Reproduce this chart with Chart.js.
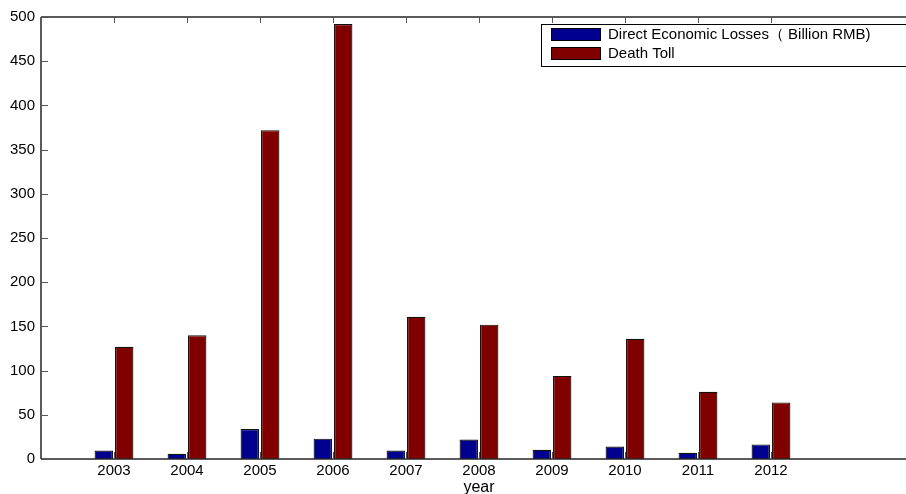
<!DOCTYPE html>
<html><head><meta charset="utf-8">
<script src="https://cdn.jsdelivr.net/npm/chart.js@4/dist/chart.umd.min.js"></script>
<style>
html,body{margin:0;padding:0;overflow:hidden;background:#fff;width:906px;height:494px}
#wrap{position:relative;width:918px;height:494px}
canvas{display:block}
</style>
</head><body><div id="wrap"><canvas id="c" width="918" height="494"></canvas></div>
<script>
const years = [2003,2004,2005,2006,2007,2008,2009,2010,2011,2012];
const lossesLabel = 'Direct Economic Losses\uFF08 Billion RMB)';
const deathLabel = 'Death Toll';
const losses = [9.5,6,34,23,9.5,22,10.5,14,7,16.5];
const deaths = [127,140,372,492,161,152,94,136,76,64];
const yTicks = [0,50,100,150,200,250,300,350,400,450,500];
const xTitle = 'year';

const FONT = '"Liberation Sans", Arial, sans-serif';

const framePlugin = {
  id: 'frame',
  afterDatasetsDraw(chart) {
    const ctx = chart.ctx, a = chart.chartArea;
    const xs = chart.scales.x, ys = chart.scales.y;
    ctx.save();
    ctx.strokeStyle = '#262626';
    ctx.lineWidth = 1.5;
    ctx.beginPath();
    ctx.moveTo(a.left, a.top); ctx.lineTo(a.right, a.top);
    ctx.moveTo(a.left, a.top); ctx.lineTo(a.left, a.bottom);
    ctx.moveTo(a.left, a.bottom); ctx.lineTo(a.right, a.bottom);
    ctx.stroke();
    ctx.lineWidth = 1;
    ctx.strokeStyle = '#555';
    ctx.beginPath();
    years.forEach(v => {
      const x = Math.round(xs.getPixelForValue(v)) + 0.5;
      ctx.moveTo(x, a.bottom); ctx.lineTo(x, a.bottom - 7);
      ctx.moveTo(x, a.top); ctx.lineTo(x, a.top + 6);
    });
    yTicks.forEach(v => {
      const y = Math.round(ys.getPixelForValue(v)) + 0.5;
      ctx.moveTo(a.left, y); ctx.lineTo(a.left + 7, y);
    });
    ctx.stroke();
    // legend box
    const lx = 541, ly = 24, lw = 400, lh = 42;
    ctx.fillStyle = '#fff';
    ctx.fillRect(lx, ly, lw, lh);
    ctx.strokeStyle = '#000';
    ctx.lineWidth = 1;
    ctx.strokeRect(lx + 0.5, ly + 0.5, lw, lh);
    ctx.font = '15px ' + FONT;
    ctx.textBaseline = 'middle';
    ctx.textAlign = 'left';
    chart.data.datasets.forEach((ds, i) => {
      const sy = ly + 4 + i * 19;
      ctx.fillStyle = ds.backgroundColor;
      ctx.fillRect(551, sy, 50, 13);
      ctx.strokeStyle = '#000';
      ctx.strokeRect(551.5, sy + 0.5, 49, 12);
      ctx.fillStyle = '#000';
      ctx.fillText(ds.label, 608, sy + 7);
    });
    ctx.restore();
  }
};

new Chart(document.getElementById('c'), {
  type: 'bar',
  data: {
    datasets: [
      { label: lossesLabel, data: years.map((y, i) => ({x: y, y: losses[i]})),
        backgroundColor: '#00008F', borderColor: '#111', borderWidth: 1.2 },
      { label: deathLabel, data: years.map((y, i) => ({x: y, y: deaths[i]})),
        backgroundColor: '#800000', borderColor: '#111', borderWidth: 1.2 }
    ]
  },
  options: {
    responsive: false,
    animation: false,
    devicePixelRatio: 1,
    barPercentage: 0.9,
    categoryPercentage: 0.56,
    layout: { padding: { top: 17, right: 1, left: 0, bottom: 0 } },
    plugins: { legend: { display: false }, tooltip: { enabled: false } },
    scales: {
      x: {
        type: 'linear', min: 2002, max: 2014, offset: false,
        afterBuildTicks: s => { s.ticks = years.map(v => ({ value: v })); },
        afterFit: s => { s.height = 35; },
        grid: { display: false, drawTicks: false },
        border: { display: false },
        ticks: { color: '#000', font: { family: FONT, size: 15 }, padding: 3,
                 autoSkip: false, maxRotation: 0, callback: v => String(v) },
        title: { display: true, text: xTitle, color: '#000',
                 font: { family: FONT, size: 16, lineHeight: 0.8 }, padding: { top: 0, bottom: 0 } }
      },
      y: {
        min: 0, max: 500,
        afterBuildTicks: s => { s.ticks = yTicks.map(v => ({ value: v })); },
        afterFit: s => { s.width = 41; },
        grid: { display: false, drawTicks: false },
        border: { display: false },
        ticks: { color: '#000', font: { family: FONT, size: 15 }, padding: 6 }
      }
    }
  },
  plugins: [framePlugin]
});
</script>
</body></html>
